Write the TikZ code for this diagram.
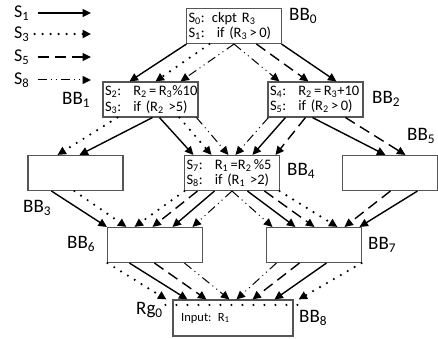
\documentclass[tikz,border=0pt]{standalone}
\usepackage{fontspec}
\setmainfont{Carlito}
\usetikzlibrary{arrows.meta}
\definecolor{boxgray}{RGB}{85,85,85}
\begin{document}
\begin{tikzpicture}[x=1pt,y=-1pt,
  box/.style={draw=boxgray, line width=1.1pt, minimum width=95pt, minimum height=35pt,
    inner sep=2pt, text width=91pt, align=left, font=\fontsize{14.5}{15.5}\selectfont},
  lbl/.style={font=\fontsize{19}{20}\selectfont, inner sep=0pt, anchor=west},
  leg/.style={font=\fontsize{18}{18}\selectfont, inner sep=0pt, anchor=west},
  arr/.style={-{Triangle[length=8.5pt,width=8pt]}, line width=1.4pt},
  sol/.style={arr},
  dotl/.style={arr, line width=2.4pt, line cap=round, dash pattern=on 0pt off 8pt},
  dashl/.style={arr, dash pattern=on 11pt off 6pt},
  ddot/.style={arr, line width=1pt, dash pattern=on 9pt off 4pt on 1pt off 4pt on 1pt off 4pt},
]
\path[use as bounding box, fill=white] (0,0) rectangle (438,339);

% legend
\node[leg] (s1) at (14,13) {S\textsubscript{1}};
\node[leg] (s3) at (14,34) {S\textsubscript{3}};
\node[leg] (s5) at (14,57) {S\textsubscript{5}};
\node[leg] (s8) at (14,80) {S\textsubscript{8}};
\coordinate (e1) at (91,13);
\coordinate (e3) at (91,34);
\coordinate (e5) at (91,57);
\coordinate (e8) at (91,80);
\draw[sol] ([xshift=8pt]s1.east) -- (e1);
\draw[dotl] ([xshift=5pt]s3.east) -- (e3);
\draw[dashl] ([xshift=8pt]s5.east) -- (e5);
\draw[ddot] ([xshift=8pt]s8.east) -- (e8);

% boxes
\node[box] (b0) at (234,26) {S\textsubscript{0}: ckpt R\textsubscript{3}\\S\textsubscript{1}:~ if (R\textsubscript{3}\,>\,0)};
\node[box] (b1) at (150.5,99.5) {S\textsubscript{2}:~ R\textsubscript{2}\,=\,R\textsubscript{3}\%10\\S\textsubscript{3}:~ if (R\textsubscript{2} >5)};
\node[box] (b2) at (315.5,99.5) {S\textsubscript{4}:~ R\textsubscript{2}\,=\,R\textsubscript{3}+10\\S\textsubscript{5}:~ if (R\textsubscript{2}\,>\,0)};
\node[box] (b3) at (75.5,173) {};
\node[box] (b4) at (232,173) {S\textsubscript{7}:~ R\textsubscript{1}\,=R\textsubscript{2}\,\%5\\S\textsubscript{8}:~ if (R\textsubscript{1} >2)};
\node[box] (b5) at (390,173) {};
\node[box] (b6) at (155,245) {};
\node[box] (b7) at (314,245) {};
\node[box, minimum width=120pt, minimum height=36pt, text width=112pt, font=\fontsize{12.5}{14}\selectfont] (b8) at (233,318) {~Input: R\textsubscript{1}};

% labels
\node[lbl] (l0) at (289,16) {BB\textsubscript{0}};
\node[lbl] (l1) at (62,100) {BB\textsubscript{1}};
\node[lbl] (l2) at (372,99) {BB\textsubscript{2}};
\node[lbl] (l3) at (23,208) {BB\textsubscript{3}};
\node[lbl] (l4) at (287,171) {BB\textsubscript{4}};
\node[lbl] (l5) at (407,136) {BB\textsubscript{5}};
\node[lbl] (l6) at (67,244) {BB\textsubscript{6}};
\node[lbl] (l7) at (368,245) {BB\textsubscript{7}};
\node[lbl] (l8) at (299,318) {BB\textsubscript{8}};
\node[lbl] (rg) at (136,310) {Rg\textsubscript{0}};

% BB0 -> BB1
\draw[sol]  ([xshift=0.5pt]b0.south west) -- ([xshift=27pt]b1.north west);
\draw[dotl] ([xshift=23.5pt]b0.south west) -- ([xshift=53pt]b1.north west);
\draw[ddot] (b0.south) -- ([xshift=78pt]b1.north west);
% BB0 -> BB2
\draw[ddot] (b0.south) -- ([xshift=12pt]b2.north west);
\draw[dashl] ([xshift=70.5pt]b0.south west) -- ([xshift=41pt]b2.north west);
\draw[sol]  ([xshift=-0.5pt]b0.south east) -- ([xshift=69pt]b2.north west);
% BB1 -> BB3
\draw[dotl] ([xshift=15pt]b1.south west) -- ([xshift=30pt]b3.north west);
\draw[sol]  ([xshift=50pt]b1.south west) -- ([xshift=52pt]b3.north west);
% BB1 -> BB4
\draw[sol]  ([xshift=57pt]b1.south west) -- ([xshift=9.5pt]b4.north west);
\draw[dotl] ([xshift=77pt]b1.south west) -- ([xshift=27.5pt]b4.north west);
\draw[ddot] ([xshift=94pt]b1.south west) -- ([xshift=44.5pt]b4.north west);
% BB2 -> BB4
\draw[ddot] ([xshift=1pt]b2.south west) -- ([xshift=51.5pt]b4.north west);
\draw[sol]  ([xshift=18pt]b2.south west) -- ([xshift=68.5pt]b4.north west);
\draw[dashl] ([xshift=38pt]b2.south west) -- ([xshift=91.5pt]b4.north west);
% BB2 -> BB5
\draw[sol]  ([xshift=45pt]b2.south west) -- ([xshift=43.5pt]b5.north west);
\draw[dashl] ([xshift=78pt]b2.south west) -- ([xshift=63.5pt]b5.north west);
% BB3 -> BB6
\draw[sol]  ([xshift=24pt]b3.south west) -- ([xshift=0pt]b6.north west);
\draw[dotl] ([xshift=47pt]b3.south west) -- ([xshift=19.5pt]b6.north west);
% BB4 -> BB6
\draw[dotl] ([xshift=0.5pt]b4.south west) -- ([xshift=27.5pt]b6.north west);
\draw[dashl] ([xshift=13.5pt]b4.south west) -- ([xshift=45.5pt]b6.north west);
\draw[sol]  ([xshift=30.5pt]b4.south west) -- ([xshift=65.5pt]b6.north west);
\draw[ddot] (b4.south) -- ([xshift=85.5pt]b6.north west);
% BB4 -> BB7
\draw[ddot] (b4.south) -- ([xshift=6.5pt]b7.north west);
\draw[sol]  ([xshift=63.5pt]b4.south west) -- ([xshift=29.5pt]b7.north west);
\draw[dashl] ([xshift=80.5pt]b4.south west) -- ([xshift=48.5pt]b7.north west);
\draw[dotl] ([xshift=-0.5pt]b4.south east) -- ([xshift=71.5pt]b7.north west);
% BB5 -> BB7
\draw[dashl] ([xshift=48.5pt]b5.south west) -- ([xshift=78.5pt]b7.north west);
\draw[sol]  ([xshift=75.5pt]b5.south west) -- ([xshift=93.5pt]b7.north west);
% BB6 -> BB8
\draw[dotl] ([xshift=0.5pt]b6.south west) -- ([xshift=-6pt]b8.north west);
\draw[sol]  ([xshift=22.5pt]b6.south west) -- ([xshift=15pt]b8.north west);
\draw[dashl] ([xshift=47.5pt]b6.south west) -- ([xshift=34pt]b8.north west);
\draw[ddot] ([xshift=77.5pt]b6.south west) -- ([xshift=57pt]b8.north west);
% BB7 -> BB8
\draw[ddot] ([xshift=10.5pt]b7.south west) -- ([xshift=64pt]b8.north west);
\draw[dashl] ([xshift=33.5pt]b7.south west) -- ([xshift=80pt]b8.north west);
\draw[sol]  ([xshift=60.5pt]b7.south west) -- ([xshift=102pt]b8.north west);
\draw[dotl] ([xshift=-0.5pt]b7.south east) -- ([xshift=5pt]b8.north east);
% Rg0 dotted line
\draw[line width=2.4pt, line cap=round, dash pattern=on 0pt off 11pt]
  ([xshift=-7pt,yshift=-5.5pt]b8.north west) -- ([xshift=5pt,yshift=-5.5pt]b8.north east);
\end{tikzpicture}
\end{document}
